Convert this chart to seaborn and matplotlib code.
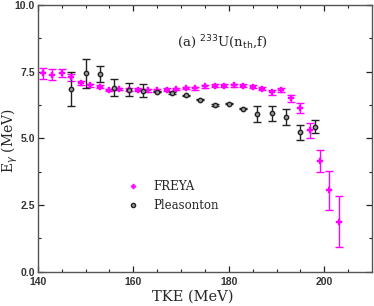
import matplotlib
matplotlib.use("Agg")
import matplotlib.pyplot as plt
import seaborn as sns
import pandas as pd
from matplotlib.lines import Line2D

freya_tke = [141, 143, 145, 147, 149, 151, 153, 155, 157, 159, 161, 163, 165, 167, 169, 171,
             173, 175, 177, 179, 181, 183, 185, 187, 189, 191, 193, 195, 197, 199, 201, 203]
freya_eg = [7.43, 7.38, 7.44, 7.28, 7.07, 6.99, 6.94, 6.81, 6.85, 6.82, 6.82, 6.80, 6.80, 6.82,
            6.85, 6.89, 6.87, 6.95, 6.97, 6.97, 6.98, 6.97, 6.94, 6.86, 6.73, 6.81, 6.50, 6.15,
            5.30, 4.15, 3.05, 1.88]
freya_err = [0.22, 0.20, 0.15, 0.13, 0.08, 0.06, 0.06, 0.05, 0.05, 0.05, 0.05, 0.05, 0.05, 0.05,
             0.05, 0.05, 0.05, 0.05, 0.05, 0.05, 0.05, 0.05, 0.05, 0.06, 0.09, 0.09, 0.14, 0.19,
             0.28, 0.42, 0.74, 0.94]

pleas_tke = [147, 150, 153, 156, 159, 162, 165, 168, 171, 174, 177, 180, 183, 186, 189, 192, 195, 198]
pleas_eg = [6.85, 7.44, 7.40, 6.90, 6.82, 6.78, 6.75, 6.69, 6.61, 6.45, 6.25, 6.30, 6.11, 5.92,
            5.93, 5.80, 5.22, 5.44]
pleas_err = [0.63, 0.54, 0.30, 0.33, 0.24, 0.25, 0.03, 0.03, 0.03, 0.03, 0.03, 0.03, 0.03, 0.29,
             0.27, 0.30, 0.28, 0.23]

series_labels = ["FREYA", "Pleasonton"]
xlim = (140, 210)
ylim = (0, 10)

sns.set_style("ticks")
plt.rcParams['font.family'] = ['Liberation Sans', 'DejaVu Sans']

MAG = "#ff00ff"
BLK = "#222222"

fig = plt.figure(figsize=(3.74, 3.06), dpi=100)
ax = fig.add_axes([0.101, 0.112, 0.894, 0.872])

df_f = pd.DataFrame({"TKE": freya_tke, "Eg": freya_eg, "err": freya_err})
df_p = pd.DataFrame({"TKE": pleas_tke, "Eg": pleas_eg, "err": pleas_err})

ax.errorbar(df_f["TKE"], df_f["Eg"], yerr=df_f["err"], fmt="none", ecolor=MAG,
            elinewidth=1.0, capsize=2.8, capthick=1.0, zorder=2)
ax.errorbar(df_p["TKE"], df_p["Eg"], yerr=df_p["err"], fmt="none", ecolor=BLK,
            elinewidth=1.0, capsize=2.8, capthick=1.0, zorder=3)
sns.scatterplot(data=df_f, x="TKE", y="Eg", ax=ax, marker="P", s=14, color=MAG,
                edgecolor=MAG, linewidth=0.3, zorder=4, legend=False)
sns.scatterplot(data=df_p, x="TKE", y="Eg", ax=ax, marker="o", s=10, color="#999999",
                edgecolor=BLK, linewidth=1.0, zorder=5, legend=False)

ax.set_xlim(*xlim)
ax.set_ylim(*ylim)
ax.set_xticks([140, 160, 180, 200])
ax.set_xticklabels(["140", "160", "180", "200"], fontsize=7.5, fontweight="bold",
                   color="#333333")
ax.set_xticks(range(145, 210, 5), minor=True)
ax.set_yticks([0, 2.5, 5.0, 7.5, 10.0])
ax.set_yticklabels(["0.0", "2.5", "5.0", "7.5", "10.0"], fontsize=7.5, fontweight="bold",
                   color="#333333")
ax.set_yticks([1.25, 3.75, 6.25, 8.75], minor=True)
ax.tick_params(which="both", direction="in", top=True, right=True, color=BLK)
ax.tick_params(axis="x", which="major", pad=3.5)
ax.tick_params(axis="y", which="major", pad=2)
ax.tick_params(which="major", length=4.5, width=0.9)
ax.tick_params(which="minor", length=2.3, width=0.8)
for sp in ax.spines.values():
    sp.set_linewidth(1.0)
    sp.set_color("#555555")

serif = ['DejaVu Serif']
ax.set_xlabel("TKE (MeV)", fontsize=10.5, family=serif)
ax.xaxis.set_label_coords(0.465, -0.068, transform=ax.transAxes)
ax.xaxis.label.set_va("top")
ax.set_ylabel(r"E$_\gamma$ (MeV)", fontsize=10, family=serif)
ax.yaxis.set_label_coords(-0.083, 0.49, transform=ax.transAxes)
ax.yaxis.label.set_va("center")
ax.text(169.2, 8.58, r"(a) $^{233}$U(n$_{\rm th}$,f)", fontsize=9.5, family=serif,
        va="center", ha="left")

handles = [
    Line2D([], [], linestyle="none", marker="P", markersize=3.5, color=MAG, markeredgewidth=0.3),
    Line2D([], [], linestyle="none", marker="o", markersize=3, markerfacecolor="#999999",
           markeredgecolor=BLK, markeredgewidth=1.0),
]
leg = ax.legend(handles, series_labels, loc="center left", bbox_to_anchor=(0.236, 0.283),
                frameon=False, prop={"family": serif, "size": 8.5}, handletextpad=1.2,
                labelspacing=0.55, handlelength=1.0)

fig.savefig("out.png", dpi=100)
